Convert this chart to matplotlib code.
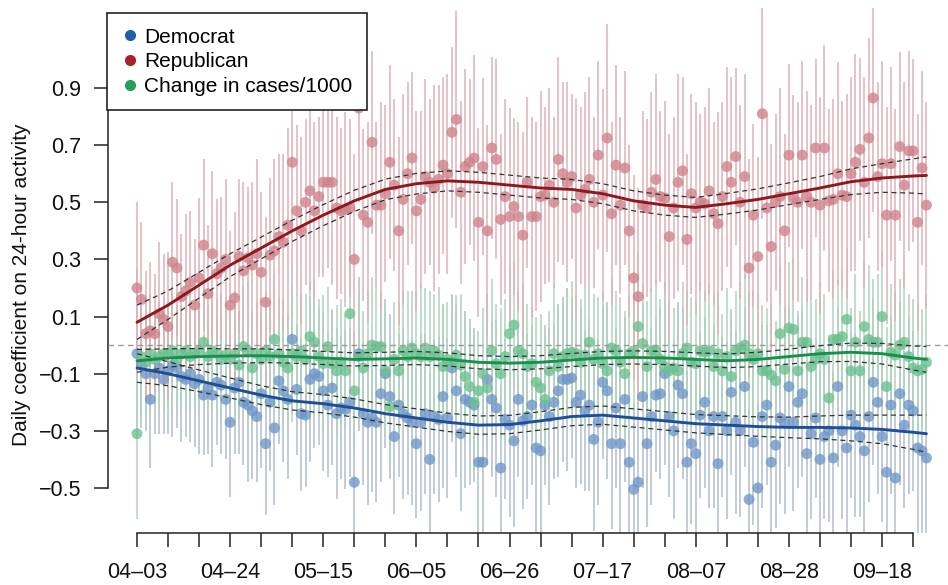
import matplotlib
matplotlib.use("Agg")
import matplotlib.pyplot as plt
from matplotlib.lines import Line2D
import numpy as np

plt.rcParams['font.family'] = ['Liberation Sans', 'DejaVu Sans']

# ---------------- data ----------------
# day index 0 = 04-03, one point per day
republican = [
    0.20, 0.16, 0.04, 0.05, 0.04, 0.11, 0.09, 0.065, 0.29, 0.27,
    0.17, 0.19, 0.22, 0.14, 0.235, 0.35, 0.18, 0.32, 0.25, 0.27,
    0.30, 0.14, 0.165, 0.31, 0.26, 0.305, 0.28, 0.32, 0.255, 0.15,
    0.315, 0.33, 0.38, 0.36, 0.42, 0.64, 0.47, 0.40, 0.50, 0.54,
    0.47, 0.52, 0.57, 0.57, 0.57, 0.48, 0.47, 0.475, 0.48, 0.30,
    0.83, 0.455, 0.43, 0.71, 0.49, 0.49, 0.53, 0.64, 0.56, 0.40,
    0.51, 0.60, 0.655, 0.47, 0.51, 0.59, 0.57, 0.55, 0.58, 0.63,
    0.60, 0.745, 0.79, 0.535, 0.625, 0.64, 0.655, 0.43, 0.625, 0.40,
    0.69, 0.65, 0.44, 0.52, 0.45, 0.485, 0.45, 0.385, 0.57, 0.45,
    0.45, 0.52, 0.525, 0.56, 0.50, 0.65, 0.60, 0.57, 0.59, 0.48,
    0.525, 0.545, 0.58, 0.50, 0.665, 0.525, 0.725, 0.46, 0.63, 0.49,
    0.62, 0.40, 0.235, 0.17, 0.49, 0.48, 0.535, 0.58, 0.52, 0.515,
    0.38, 0.48, 0.57, 0.61, 0.37, 0.53, 0.48, 0.50, 0.495, 0.54,
    0.46, 0.425, 0.52, 0.625, 0.57, 0.66, 0.50, 0.59, 0.27, 0.455,
    0.31, 0.81, 0.48, 0.345, 0.50, 0.52, 0.40, 0.665, 0.515, 0.50,
    0.665, 0.52, 0.50, 0.69, 0.49, 0.69, 0.505, 0.51, 0.60, 0.525,
    0.52, 0.60, 0.64, 0.685, 0.57, 0.725, 0.865, 0.59, 0.635, 0.455,
    0.635, 0.455, 0.695, 0.56, 0.68, 0.68, 0.43, 0.62, 0.49,
]
republican_err = [
    0.30, 0.27, 0.22, 0.24, 0.21, 0.25, 0.23, 0.26, 0.28, 0.24,
    0.22, 0.27, 0.25, 0.23, 0.28, 0.30, 0.24, 0.29, 0.26, 0.25,
    0.28, 0.26, 0.30, 0.27, 0.31, 0.25, 0.29, 0.33, 0.28, 0.30,
    0.27, 0.32, 0.29, 0.31, 0.34, 0.36, 0.30, 0.33, 0.29, 0.35,
    0.31, 0.28, 0.33, 0.30, 0.36, 0.32, 0.29, 0.34, 0.31, 0.37,
    0.33, 0.30, 0.35, 0.32, 0.29, 0.36, 0.31, 0.34, 0.30, 0.33,
    0.37, 0.32, 0.30, 0.35, 0.31, 0.34, 0.29, 0.36, 0.33, 0.31,
    0.35, 0.30, 0.38, 0.32, 0.34, 0.29, 0.36, 0.33, 0.31, 0.37,
    0.32, 0.35, 0.30, 0.34, 0.38, 0.31, 0.33, 0.36, 0.30, 0.35,
    0.33, 0.37, 0.31, 0.34, 0.30, 0.36, 0.32, 0.35, 0.29, 0.38,
    0.31, 0.34, 0.36, 0.30, 0.33, 0.37, 0.40, 0.32, 0.35, 0.31,
    0.34, 0.30, 0.36, 0.38, 0.33, 0.31, 0.35, 0.37, 0.30, 0.34,
    0.36, 0.32, 0.38, 0.33, 0.30, 0.35, 0.37, 0.31, 0.34, 0.36,
    0.32, 0.39, 0.33, 0.35, 0.37, 0.31, 0.34, 0.36, 0.38, 0.32,
    0.35, 0.37, 0.33, 0.36, 0.31, 0.38, 0.34, 0.32, 0.36, 0.35,
    0.33, 0.37, 0.34, 0.31, 0.38, 0.36, 0.32, 0.35, 0.39, 0.33,
    0.36, 0.34, 0.38, 0.32, 0.37, 0.35, 0.40, 0.33, 0.36, 0.38,
    0.34, 0.37, 0.33, 0.36, 0.35, 0.32, 0.38, 0.34, 0.36,
]
democrat = [
    -0.03, -0.07, -0.10, -0.19, -0.10, -0.08, -0.12, -0.09, -0.07, -0.08,
    -0.11, -0.12, -0.10, -0.135, -0.12, -0.175, -0.15, -0.175, -0.13, -0.14,
    -0.19, -0.27, -0.15, -0.13, -0.20, -0.21, -0.23, -0.25, -0.17, -0.345,
    -0.20, -0.29, -0.125, -0.16, -0.19, 0.02, -0.155, -0.24, -0.245, -0.12,
    -0.10, -0.11, -0.16, -0.21, -0.15, -0.24, -0.22, -0.225, -0.20, -0.48,
    -0.03, -0.24, -0.27, -0.255, -0.27, -0.17, -0.10, -0.18, -0.32, -0.21,
    -0.24, -0.255, -0.27, -0.345, -0.27, -0.24, -0.40, -0.25, -0.26, -0.18,
    -0.255, -0.08, -0.16, -0.31, -0.19, -0.20, -0.21, -0.41, -0.41, -0.12,
    -0.19, -0.22, -0.43, -0.26, -0.28, -0.335, -0.19, -0.265, -0.25, -0.21,
    -0.36, -0.37, -0.21, -0.25, -0.20, -0.16, -0.12, -0.12, -0.115, -0.20,
    -0.175, -0.23, -0.21, -0.33, -0.27, -0.13, -0.16, -0.345, -0.22, -0.345,
    -0.19, -0.41, -0.505, -0.48, -0.18, -0.345, -0.25, -0.175, -0.17, -0.10,
    -0.25, -0.30, -0.14, -0.17, -0.41, -0.345, -0.38, -0.245, -0.20, -0.30,
    -0.25, -0.415, -0.25, -0.30, -0.165, -0.27, -0.30, -0.145, -0.54, -0.34,
    -0.50, -0.25, -0.21, -0.41, -0.35, -0.255, -0.27, -0.145, -0.27, -0.20,
    -0.17, -0.38, -0.31, -0.255, -0.40, -0.32, -0.30, -0.395, -0.145, -0.30,
    -0.36, -0.245, -0.28, -0.32, -0.37, -0.25, -0.13, -0.20, -0.32, -0.445,
    -0.21, -0.465, -0.17, -0.28, -0.21, -0.23, -0.36, -0.37, -0.395,
]
democrat_err = [
    0.30, 0.22, 0.20, 0.24, 0.21, 0.23, 0.19, 0.22, 0.25, 0.21,
    0.23, 0.20, 0.24, 0.22, 0.26, 0.21, 0.23, 0.25, 0.22, 0.24,
    0.21, 0.26, 0.23, 0.25, 0.22, 0.27, 0.24, 0.23, 0.26, 0.25,
    0.24, 0.27, 0.22, 0.25, 0.28, 0.26, 0.23, 0.27, 0.25, 0.29,
    0.26, 0.24, 0.28, 0.25, 0.27, 0.30, 0.25, 0.28, 0.26, 0.30,
    0.27, 0.25, 0.29, 0.26, 0.28, 0.31, 0.26, 0.29, 0.27, 0.25,
    0.30, 0.27, 0.29, 0.26, 0.31, 0.28, 0.30, 0.27, 0.29, 0.32,
    0.28, 0.26, 0.30, 0.27, 0.31, 0.29, 0.27, 0.32, 0.28, 0.30,
    0.27, 0.31, 0.29, 0.28, 0.32, 0.30, 0.27, 0.31, 0.29, 0.28,
    0.32, 0.30, 0.28, 0.31, 0.27, 0.30, 0.29, 0.32, 0.28, 0.30,
    0.31, 0.28, 0.30, 0.32, 0.29, 0.27, 0.31, 0.30, 0.28, 0.32,
    0.29, 0.31, 0.30, 0.28, 0.32, 0.29, 0.31, 0.27, 0.30, 0.32,
    0.28, 0.31, 0.29, 0.30, 0.32, 0.28, 0.31, 0.29, 0.30, 0.27,
    0.32, 0.30, 0.28, 0.31, 0.29, 0.32, 0.30, 0.28, 0.31, 0.29,
    0.30, 0.32, 0.28, 0.31, 0.29, 0.30, 0.32, 0.28, 0.31, 0.30,
    0.29, 0.32, 0.30, 0.28, 0.31, 0.29, 0.32, 0.30, 0.28, 0.31,
    0.30, 0.29, 0.32, 0.28, 0.31, 0.30, 0.29, 0.32, 0.30, 0.28,
    0.31, 0.30, 0.32, 0.29, 0.31, 0.28, 0.30, 0.32, 0.30,
]
cases = [
    -0.31, -0.04, -0.06, -0.03, -0.05, -0.04, -0.03, -0.03, -0.02, -0.05,
    -0.03, -0.02, -0.04, -0.03, -0.02, 0.01, -0.04, -0.02, -0.03, -0.05,
    -0.035, -0.05, -0.03, -0.07, -0.005, -0.02, -0.08, -0.03, -0.05, -0.02,
    -0.04, 0.02, -0.03, -0.06, -0.08, -0.03, -0.04, -0.02, -0.05, 0.03,
    0.01, -0.04, -0.065, -0.005, -0.065, -0.09, -0.06, -0.09, 0.11, -0.16,
    -0.04, -0.08, -0.03, 0.0, -0.005, -0.005, -0.09, -0.215, -0.05, -0.09,
    -0.02, -0.04, -0.01, -0.03, -0.04, -0.01, -0.04, -0.02, -0.035, -0.075,
    -0.05, -0.06, -0.035, -0.07, -0.11, -0.145, -0.20, -0.16, -0.10, -0.15,
    -0.02, -0.065, -0.10, -0.04, 0.04, 0.07, -0.02, -0.03, -0.075, -0.065,
    -0.13, -0.15, -0.19, -0.09, -0.03, -0.075, -0.04, -0.03, -0.025, -0.03,
    -0.06, -0.035, 0.01, -0.05, -0.03, -0.065, -0.09, -0.01, -0.02, -0.06,
    -0.10, -0.03, -0.02, 0.065, 0.005, -0.075, -0.02, -0.02, -0.05, -0.075,
    -0.09, -0.08, -0.09, -0.03, -0.01, -0.06, -0.065, -0.02, -0.025, -0.02,
    -0.075, -0.03, -0.09, -0.04, -0.11, -0.02, -0.01, 0.0, -0.03, -0.05,
    -0.03, -0.09, -0.09, -0.105, -0.125, 0.04, -0.085, 0.06, 0.055, -0.09,
    0.01, 0.01, -0.075, -0.05, -0.03, -0.05, -0.185, 0.02, 0.02, 0.03,
    0.09, -0.09, 0.01, -0.09, 0.065, 0.02, 0.01, 0.01, 0.10, -0.145,
    -0.025, -0.035, 0.0, 0.01, -0.04, -0.08, -0.09, -0.085, -0.06,
]
cases_err = [
    0.30, 0.20, 0.18, 0.21, 0.17, 0.19, 0.20, 0.18, 0.22, 0.19,
    0.17, 0.21, 0.19, 0.18, 0.22, 0.20, 0.18, 0.21, 0.19, 0.23,
    0.20, 0.18, 0.22, 0.19, 0.21, 0.24, 0.20, 0.18, 0.22, 0.21,
    0.19, 0.23, 0.20, 0.22, 0.19, 0.24, 0.21, 0.20, 0.23, 0.19,
    0.22, 0.20, 0.24, 0.21, 0.19, 0.23, 0.22, 0.20, 0.25, 0.21,
    0.23, 0.20, 0.22, 0.24, 0.21, 0.19, 0.23, 0.22, 0.20, 0.24,
    0.21, 0.23, 0.20, 0.22, 0.25, 0.21, 0.23, 0.20, 0.24, 0.22,
    0.20, 0.23, 0.21, 0.25, 0.22, 0.20, 0.24, 0.21, 0.23, 0.22,
    0.25, 0.21, 0.23, 0.20, 0.24, 0.22, 0.21, 0.25, 0.22, 0.20,
    0.23, 0.26, 0.22, 0.21, 0.24, 0.22, 0.20, 0.23, 0.25, 0.21,
    0.22, 0.24, 0.21, 0.23, 0.20, 0.25, 0.22, 0.24, 0.21, 0.23,
    0.22, 0.20, 0.24, 0.26, 0.21, 0.23, 0.22, 0.25, 0.21, 0.23,
    0.24, 0.21, 0.22, 0.25, 0.20, 0.23, 0.22, 0.24, 0.21, 0.23,
    0.25, 0.22, 0.20, 0.24, 0.22, 0.21, 0.23, 0.25, 0.22, 0.24,
    0.21, 0.23, 0.22, 0.25, 0.21, 0.24, 0.22, 0.23, 0.25, 0.21,
    0.23, 0.22, 0.24, 0.21, 0.25, 0.23, 0.22, 0.24, 0.21, 0.23,
    0.25, 0.22, 0.24, 0.21, 0.23, 0.26, 0.22, 0.24, 0.23, 0.21,
    0.24, 0.22, 0.23, 0.25, 0.22, 0.24, 0.23, 0.21, 0.24,
]

# smoothed trends (value at selected days) with confidence half-widths
trend_days = [0, 7, 14, 21, 28, 35, 42, 49, 56, 63, 70, 77, 84, 91, 98,
              105, 112, 119, 126, 133, 140, 147, 154, 161, 168, 175, 178]
rep_trend = [0.08, 0.14, 0.21, 0.28, 0.34, 0.40, 0.455, 0.505, 0.545, 0.565,
             0.575, 0.57, 0.56, 0.55, 0.545, 0.53, 0.505, 0.49, 0.482, 0.495,
             0.51, 0.53, 0.55, 0.572, 0.585, 0.592, 0.594]
rep_band = [0.06, 0.05, 0.045, 0.04, 0.038, 0.037, 0.037, 0.037, 0.036, 0.036,
            0.035, 0.035, 0.035, 0.035, 0.035, 0.035, 0.035, 0.035, 0.035, 0.036,
            0.037, 0.038, 0.04, 0.045, 0.05, 0.06, 0.065]
dem_trend = [-0.08, -0.10, -0.125, -0.15, -0.175, -0.195, -0.205, -0.22, -0.24, -0.255,
             -0.27, -0.28, -0.278, -0.265, -0.25, -0.245, -0.255, -0.265, -0.275, -0.28,
             -0.285, -0.288, -0.288, -0.29, -0.295, -0.305, -0.31]
dem_band = [0.05, 0.042, 0.038, 0.035, 0.033, 0.032, 0.032, 0.032, 0.032, 0.032,
            0.032, 0.032, 0.032, 0.032, 0.032, 0.032, 0.032, 0.032, 0.032, 0.033,
            0.034, 0.036, 0.04, 0.045, 0.05, 0.06, 0.065]
cases_trend = [-0.055, -0.045, -0.04, -0.038, -0.037, -0.04, -0.045, -0.05, -0.048, -0.045,
               -0.05, -0.06, -0.063, -0.06, -0.052, -0.045, -0.043, -0.045, -0.05, -0.055,
               -0.05, -0.04, -0.03, -0.025, -0.03, -0.045, -0.05]
cases_band = [0.04, 0.032, 0.028, 0.025, 0.024, 0.023, 0.023, 0.023, 0.023, 0.023,
              0.023, 0.023, 0.023, 0.023, 0.023, 0.023, 0.023, 0.023, 0.023, 0.024,
              0.025, 0.026, 0.028, 0.032, 0.036, 0.042, 0.045]

tick_days = list(range(0, 176, 7))
tick_labels = ["04\u201303", "04\u201324", "05\u201315", "06\u201305", "06\u201326",
               "07\u201317", "08\u201307", "08\u201328", "09\u201318"]
y_ticks = [-0.5, -0.3, -0.1, 0.1, 0.3, 0.5, 0.7, 0.9]

# ---------------- figure ----------------
W, H = 948, 585
fig = plt.figure(figsize=(W / 100, H / 100), dpi=100)
ax_left, ax_right, ax_bottom, ax_top = 108, 948, 533, 8
ax = fig.add_axes([ax_left / W, (H - ax_bottom) / H,
                   (ax_right - ax_left) / W, (ax_bottom - ax_top) / H])

px_per_day = 4.435
x0_px = 137
ax.set_xlim((ax_left - x0_px) / px_per_day, (ax_right - x0_px) / px_per_day)
px_per_unit = 285.7
ax.set_ylim(0.9 - (ax_bottom - 88) / px_per_unit, 0.9 + (88 - ax_top) / px_per_unit)

days = np.arange(len(republican))

series = [
    (democrat, democrat_err, '#b0bfce', '#6f97c9', dem_trend, dem_band, '#1f4e96'),
    (cases, cases_err, '#b0d3bc', '#6cc191', cases_trend, cases_band, '#16904a'),
    (republican, republican_err, '#dfb1b6', '#d0828c', rep_trend, rep_band, '#8b1a1f'),
]

for vals, err, bar_c, dot_c, tr, band, line_c in series:
    v = np.array(vals)
    e = np.array(err)
    ax.vlines(days, v - e, v + e, colors=bar_c, lw=1.1, zorder=1)

for vals, err, bar_c, dot_c, tr, band, line_c in series:
    ax.scatter(days, vals, s=62, color=dot_c, alpha=0.8, edgecolors='none', zorder=2)

ax.axhline(0, color='#999999', lw=1.0, ls=(0, (4, 3)), zorder=3)

for vals, err, bar_c, dot_c, tr, band, line_c in series:
    t = np.array(tr)
    b = np.array(band)
    ax.plot(trend_days, t + b, color='#333333', lw=0.9, ls=(0, (4, 3)), zorder=4)
    ax.plot(trend_days, t - b, color='#333333', lw=0.9, ls=(0, (4, 3)), zorder=4)
    ax.plot(trend_days, t, color=line_c, lw=2.1, zorder=5, solid_capstyle='round')

# axes styling (R base style)
for s in ['top', 'right']:
    ax.spines[s].set_visible(False)
ax.spines['left'].set_bounds(-0.5, 0.9)
ax.spines['bottom'].set_bounds(0, 175)
for s in ['left', 'bottom']:
    ax.spines[s].set_linewidth(1.1)
    ax.spines[s].set_color('#222222')

ax.set_yticks(y_ticks)
ax.set_yticklabels([f"{t:.1f}".replace('-', '\u2212') for t in y_ticks])
ax.set_xticks(tick_days)
ax.set_xticklabels([tick_labels[i // 3] if i % 3 == 0 else '' for i in range(len(tick_days))])
ax.tick_params(axis='both', direction='out', length=10, width=1.1, color='#222222',
               labelsize=15.5, labelcolor='#111111')
ax.tick_params(axis='y', pad=9)
ax.tick_params(axis='x', pad=11)

fig.text(22 / W, 1 - 285 / H, 'Daily coefficient on 24-hour activity', rotation=90,
         ha='center', va='center', fontsize=15, color='#111111')

handles = [
    Line2D([], [], ls='', marker='o', markersize=7, color='#1f5fa8'),
    Line2D([], [], ls='', marker='o', markersize=7, color='#a3242c'),
    Line2D([], [], ls='', marker='o', markersize=7, color='#22a05a'),
]
leg = ax.legend(handles, ['Democrat', 'Republican', 'Change in cases/1000'],
                loc='upper left', bbox_to_anchor=(107 / W, 1 - 13 / H),
                bbox_transform=fig.transFigure, borderaxespad=0,
                frameon=True, fancybox=False, edgecolor='#111111', framealpha=1,
                fontsize=15, handlelength=0.8, handletextpad=0.3,
                labelspacing=0.27, borderpad=0.7)
leg.get_frame().set_linewidth(1.1)
leg.set_zorder(10)

fig.savefig('out.png', dpi=100)
